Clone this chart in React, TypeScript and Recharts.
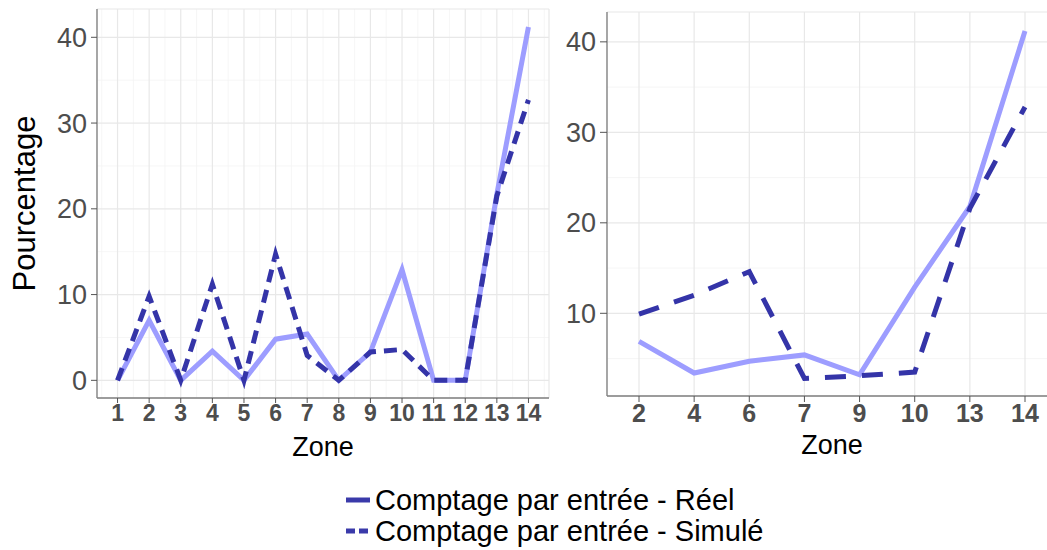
import React from 'react';
import { LineChart, Line, XAxis, YAxis, CartesianGrid } from 'recharts';

// left panel: all zones
const leftZones = [1, 2, 3, 4, 5, 6, 7, 8, 9, 10, 11, 12, 13, 14];
const leftReel = [0, 7.0, 0, 3.4, 0, 4.8, 5.4, 0, 3.3, 12.9, 0, 0, 21.7, 41.2];
const leftSimule = [0, 9.8, 0, 11.2, 0, 14.7, 2.9, 0, 3.3, 3.6, 0, 0, 21.5, 32.7];

// right panel: selected zones
const rightZones = ['2', '4', '6', '7', '9', '10', '13', '14'];
const rightReel = [6.9, 3.4, 4.7, 5.4, 3.2, 12.9, 21.8, 41.2];
const rightSimule = [9.9, 12.0, 14.6, 2.8, 3.1, 3.5, 21.6, 32.8];

const yTicks = [0, 10, 20, 30, 40];
const rightYTicks = [10, 20, 30, 40];
const yMinor = [5, 15, 25, 35];
const leftXMinor = [0.5, 1.5, 2.5, 3.5, 4.5, 5.5, 6.5, 7.5, 8.5, 9.5, 10.5, 11.5, 12.5, 13.5, 14.5];

const seriesNames = ['Comptage par entrée - Réel', 'Comptage par entrée - Simulé'];

const leftData = leftZones.map((z, i) => ({ zone: z, reel: leftReel[i], simule: leftSimule[i] }));
const rightData = rightZones.map((z, i) => ({ zone: z, reel: rightReel[i], simule: rightSimule[i] }));

const FONT = '"Liberation Sans", Arial, sans-serif';
const BORDER = '#7f7f7f';
const GRID = '#e8e8e8';
const MINOR = '#f4f4f4';
const TICK_TXT = '#4d4d4d';
const REEL = '#9d9dff';
const SIM = '#3434a8';
const LEGEND_COL = '#3a3aaa';

export default function App() {
  return (
    <div
      style={{
        position: 'fixed',
        top: 0,
        left: 0,
        width: 1047,
        height: 550,
        overflow: 'hidden',
        background: '#fff',
        fontFamily: FONT,
      }}
    >
      <div style={{ position: 'absolute', left: 0, top: 0 }}>
        <LineChart width={560} height={470} data={leftData} margin={{ top: 9, right: 11, left: 0, bottom: 0 }}>
          <CartesianGrid stroke={MINOR} strokeWidth={0.8} horizontalValues={yMinor} verticalValues={leftXMinor} />
          <CartesianGrid stroke={GRID} strokeWidth={1.2} />
          <XAxis
            dataKey="zone"
            type="number"
            domain={[0.35, 14.65]}
            ticks={leftZones}
            interval={0}
            allowDataOverflow
            height={72}
            tickSize={5}
            tickLine={{ stroke: '#555' }}
            axisLine={{ stroke: BORDER, strokeWidth: 1.3 }}
            tick={{ fill: TICK_TXT, fontSize: 23, fontWeight: 700 }}
            tickMargin={2}
            label={{ value: 'Zone', position: 'insideBottom', offset: 14, style: { fill: '#000', fontSize: 27 } }}
          />
          <XAxis xAxisId="top" orientation="top" type="number" domain={[0, 1]} height={0} tick={false} tickLine={false} axisLine={{ stroke: BORDER, strokeWidth: 1.3 }} />
          <YAxis
            type="number"
            domain={[-2.06, 43.3]}
            ticks={yTicks}
            interval={0}
            allowDataOverflow
            width={97}
            tickSize={6}
            tickLine={{ stroke: '#555' }}
            axisLine={{ stroke: BORDER, strokeWidth: 1.3 }}
            tick={{ fill: TICK_TXT, fontSize: 27 }}
            tickMargin={4}
            label={{ value: 'Pourcentage', angle: -90, position: 'insideLeft', offset: 24, style: { textAnchor: 'middle', fill: '#000', fontSize: 31 } }}
          />
          <YAxis yAxisId="right" orientation="right" type="number" domain={[0, 1]} width={0} tick={false} tickLine={false} axisLine={{ stroke: BORDER, strokeWidth: 1.3 }} />
          <Line type="linear" dataKey="reel" name={seriesNames[0]} stroke={REEL} strokeWidth={5} dot={false} isAnimationActive={false} />
          <Line type="linear" dataKey="simule" name={seriesNames[1]} stroke={SIM} strokeWidth={5} strokeDasharray="13 8" dot={false} isAnimationActive={false} />
        </LineChart>
      </div>

      <div style={{ position: 'absolute', left: 560, top: 0 }}>
        <LineChart width={520} height={470} data={rightData} margin={{ top: 12, right: 23, left: 0, bottom: 0 }}>
          <CartesianGrid stroke={MINOR} strokeWidth={0.8} horizontalValues={yMinor} vertical={false} />
          <CartesianGrid stroke={GRID} strokeWidth={1.2} />
          <XAxis
            dataKey="zone"
            type="category"
            padding={{ left: 32, right: 32 }}
            interval={0}
            height={74}
            tickSize={6}
            tickLine={{ stroke: '#555' }}
            axisLine={{ stroke: BORDER, strokeWidth: 1.3 }}
            tick={{ fill: TICK_TXT, fontSize: 25, fontWeight: 700 }}
            tickMargin={2}
            label={{ value: 'Zone', position: 'insideBottom', offset: 16, style: { fill: '#000', fontSize: 27 } }}
          />
          <XAxis xAxisId="top" orientation="top" type="number" domain={[0, 1]} height={0} tick={false} tickLine={false} axisLine={{ stroke: BORDER, strokeWidth: 1.3 }} />
          <YAxis
            type="number"
            domain={[0.86, 43.3]}
            ticks={rightYTicks}
            interval={0}
            allowDataOverflow
            width={47}
            tickSize={7}
            tickLine={{ stroke: '#555' }}
            axisLine={{ stroke: BORDER, strokeWidth: 1.3 }}
            tick={{ fill: TICK_TXT, fontSize: 27 }}
            tickMargin={4}
          />
          <Line type="linear" dataKey="reel" name={seriesNames[0]} stroke={REEL} strokeWidth={5} dot={false} isAnimationActive={false} />
          <Line type="linear" dataKey="simule" name={seriesNames[1]} stroke={SIM} strokeWidth={5} strokeDasharray="21 16" dot={false} isAnimationActive={false} />
        </LineChart>
      </div>

      <svg style={{ position: 'absolute', left: 0, top: 470 }} width={1047} height={80}>
        {seriesNames.map((name, i) => (
          <g key={name} transform={`translate(346, ${30 + i * 31})`}>
            <line
              x1={0}
              x2={24}
              y1={0}
              y2={0}
              stroke={LEGEND_COL}
              strokeWidth={5}
              strokeDasharray={i === 1 ? '9 4' : undefined}
            />
            <text x={29} y={0} dy="0.36em" fontSize={29} fill="#000" fontFamily={FONT}>
              {name}
            </text>
          </g>
        ))}
      </svg>
    </div>
  );
}
